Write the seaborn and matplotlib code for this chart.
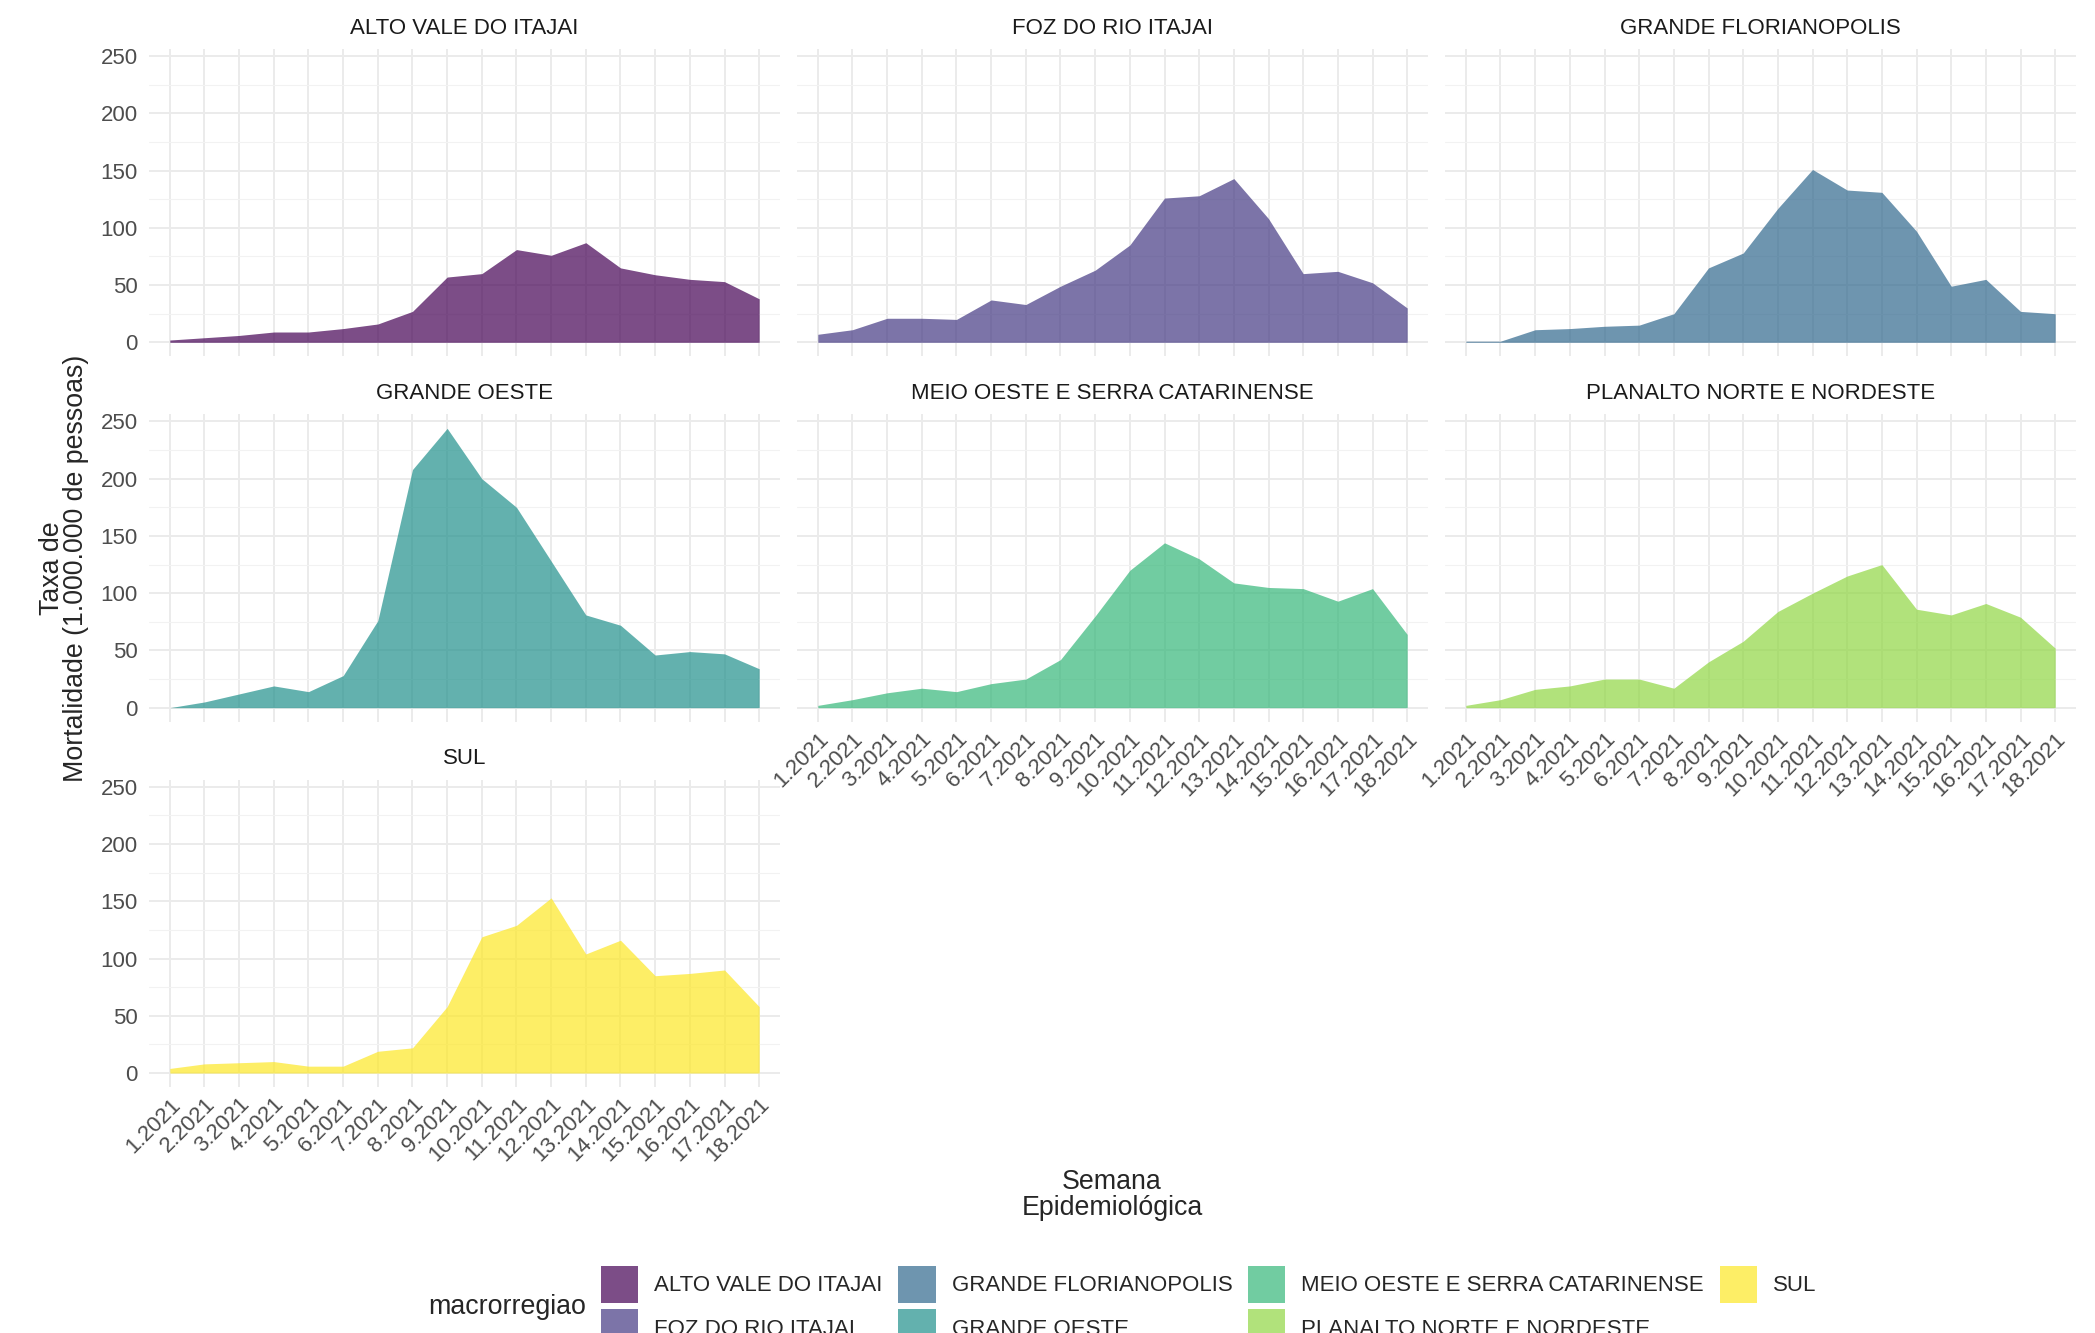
import numpy as np
import pandas as pd
import matplotlib
matplotlib.use('Agg')
import matplotlib.pyplot as plt
from matplotlib.patches import Patch
from matplotlib.ticker import MultipleLocator
import seaborn as sns

# weekly mortality rate per macro-region
semanas = ['1.2021', '2.2021', '3.2021', '4.2021', '5.2021', '6.2021', '7.2021', '8.2021', '9.2021',
           '10.2021', '11.2021', '12.2021', '13.2021', '14.2021', '15.2021', '16.2021', '17.2021', '18.2021']

regioes = ['ALTO VALE DO ITAJAI', 'FOZ DO RIO ITAJAI', 'GRANDE FLORIANOPOLIS', 'GRANDE OESTE',
           'MEIO OESTE E SERRA CATARINENSE', 'PLANALTO NORTE E NORDESTE', 'SUL']

alto_vale = [2, 4, 6, 9, 9, 12, 16, 27, 57, 60, 81, 76, 87, 65, 59, 55, 53, 38]
foz = [7, 11, 21, 21, 20, 37, 33, 49, 63, 85, 126, 128, 143, 108, 60, 62, 52, 30]
florianopolis = [1, 1, 11, 12, 14, 15, 25, 65, 78, 117, 151, 133, 131, 97, 49, 55, 27, 25]
grande_oeste = [0, 5, 12, 19, 14, 28, 76, 208, 244, 200, 175, 128, 81, 72, 46, 49, 47, 34]
meio_oeste = [2, 7, 13, 17, 14, 21, 25, 42, 80, 120, 144, 130, 109, 105, 104, 93, 104, 64]
planalto = [2, 7, 16, 19, 25, 25, 17, 40, 58, 84, 100, 115, 125, 86, 81, 91, 79, 52]
sul = [4, 8, 9, 10, 6, 6, 19, 22, 58, 119, 129, 153, 104, 116, 85, 87, 90, 58]

valores = [alto_vale, foz, florianopolis, grande_oeste, meio_oeste, planalto, sul]

df = pd.concat([pd.DataFrame({'macrorregiao': r, 'semana': semanas, 'pos': np.arange(len(semanas)), 'taxa': v})
                for r, v in zip(regioes, valores)], ignore_index=True)

sns.set_style('white')
plt.rcParams['font.family'] = ['Liberation Sans', 'DejaVu Sans']

cores = plt.get_cmap('viridis')(np.linspace(0, 1, len(regioes)))
paleta = dict(zip(regioes, cores))

def area(x, y, data=None, color=None, **kws):
    ax = plt.gca()
    reg = data['macrorregiao'].iloc[0]
    ax.fill_between(data[x], 0, data[y], color=paleta[reg], alpha=0.7, linewidth=0, zorder=2)

g = sns.FacetGrid(df, col='macrorregiao', col_wrap=3, col_order=regioes,
                  height=13.33 / 3, aspect=20.95 / 13.33, sharex=True, sharey=True, despine=False)
g.map_dataframe(area, 'pos', 'taxa')
g.set_axis_labels('', '')
g.set_titles('{col_name}', size=16, color='#1A1A1A', pad=11)

ymax = df['taxa'].max()
n = len(regioes)
for i, ax in enumerate(g.axes.flat):
    ax.set_xlim(-0.6, len(semanas) - 0.4)
    ax.set_ylim(-0.05 * ymax, 1.05 * ymax)
    ax.set_xticks(np.arange(len(semanas)))
    ax.set_xticklabels(semanas, rotation=45, ha='right', rotation_mode='anchor')
    ax.set_yticks([0, 50, 100, 150, 200, 250])
    ax.yaxis.set_minor_locator(MultipleLocator(25))
    ax.grid(which='major', color='#EBEBEB', linewidth=1.4, zorder=0)
    ax.grid(which='minor', axis='y', color='#F2F2F2', linewidth=0.8, zorder=0)
    ax.set_axisbelow(True)
    for s in ax.spines.values():
        s.set_visible(False)
    ax.tick_params(axis='x', length=0, pad=5, labelsize=16, labelcolor='#4D4D4D',
                   labelbottom=(i + 3 >= n))
    ax.tick_params(axis='y', which='both', length=0, pad=8, labelsize=16, labelcolor='#4D4D4D',
                   labelleft=(i % 3 == 0))

fig = g.figure
fig.set_size_inches(20.95, 13.33)
fig.subplots_adjust(left=149 / 2095, right=2076 / 2095, top=1 - 49 / 1333, bottom=1 - 1087 / 1333,
                    wspace=0.027, hspace=0.189)

fig.text(64 / 2095, 1 - 568 / 1333, 'Taxa de\nMortalidade (1.000.000 de pessoas)', rotation=90,
         ha='center', va='center', fontsize=19.3, multialignment='center', linespacing=0.9)
fig.text(1112 / 2095, 1 - 1195 / 1333, 'Semana\nEpidemiológica', ha='center', va='center',
         fontsize=19.3, multialignment='center', linespacing=1.0)

handles = [Patch(facecolor=c, alpha=0.7, edgecolor='none') for c in cores]
fig.legend(handles, regioes, ncol=4, loc='upper left', bbox_to_anchor=(601 / 2095, 1 - 1266 / 1333),
           frameon=False, fontsize=16, handlelength=1.67, handleheight=2.19, handletextpad=0.72,
           columnspacing=0.72, labelspacing=0.27, borderpad=0, borderaxespad=0)
fig.text(428 / 2095, 1 - 1307 / 1333, 'macrorregiao', ha='left', va='center', fontsize=19.3)

fig.savefig('out.png', dpi=100, facecolor='white')
